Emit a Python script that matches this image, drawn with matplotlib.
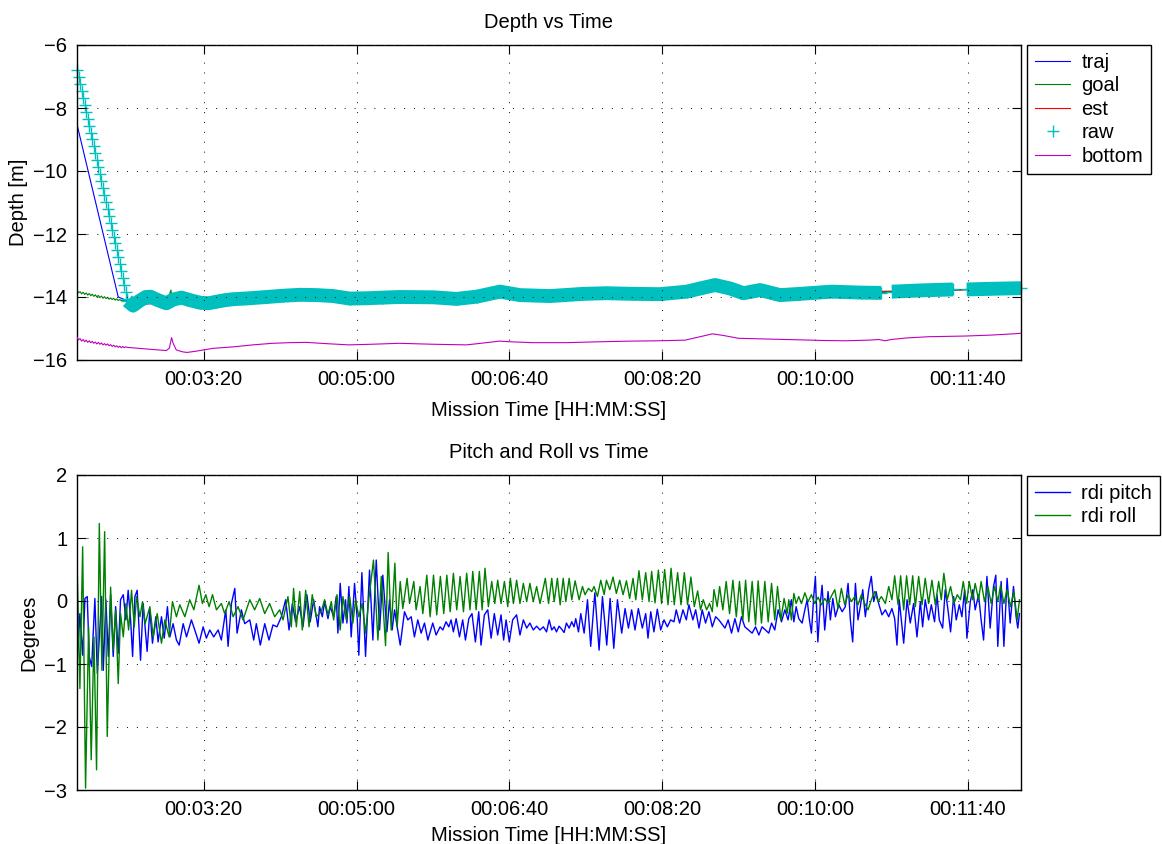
import numpy as np
import matplotlib
matplotlib.use('Agg')
import matplotlib.pyplot as plt
from matplotlib.ticker import FuncFormatter, FixedLocator
from matplotlib.lines import Line2D

plt.rcParams['font.family'] = ['Liberation Sans', 'DejaVu Sans']
plt.rcParams['font.size'] = 14.5

# ---------------- data (seconds, metres / degrees) ----------------
XMIN, XMAX = 117.0, 735.0
xticks = [200, 300, 400, 500, 600, 700]

# raw depth: descent samples
raw_desc_t = [117, 118, 119, 120, 121, 122, 123, 124, 125, 126, 127, 128, 129, 130,
              131, 132, 133, 134, 135, 136, 137, 138, 139, 140, 141, 142, 143, 144,
              145, 146, 147, 148, 149, 150]
raw_desc_v = [-6.80, -7.02, -7.24, -7.46, -7.68, -7.90, -8.12, -8.34, -8.56, -8.78,
              -9.00, -9.22, -9.44, -9.66, -9.88, -10.10, -10.32, -10.54, -10.76, -10.98,
              -11.20, -11.42, -11.64, -11.86, -12.08, -12.30, -12.52, -12.74, -12.96,
              -13.18, -13.40, -13.62, -13.84, -14.06]
# raw depth: level part (band centre), NaN = no samples
raw_lvl_t = [150, 153.7, 158, 162, 165, 170, 175.5, 180, 185.4, 191, 197.4, 203, 208.3,
             214, 219.2, 230, 241.1, 252, 262.9, 274, 284.7, 295.6, 306.6, 317, 328.4,
             350.2, 365.5, 378.6, 393.9, 407, 426.7, 448.5, 463.8, 481.2, 498.7, 516.2,
             524.9, 534.7, 544.6, 553.3, 564.2, 577.3, 590.4, 611, 630, 643.5, 644,
             650.5, 670, 690.5, 691, 699.5, 715, 735]
raw_lvl_v = [-14.12, -14.27, -14.12, -14.00, -13.99, -14.10, -14.20, -14.08, -14.02,
             -14.10, -14.18, -14.20, -14.15, -14.10, -14.07, -14.04, -14.00, -13.96,
             -13.93, -13.94, -13.97, -14.05, -14.04, -14.02, -14.00, -14.01, -14.06,
             -13.99, -13.83, -13.94, -13.97, -13.90, -13.88, -13.90, -13.91, -13.83,
             -13.73, -13.62, -13.73, -13.88, -13.78, -13.94, -13.90, -13.83, -13.86,
             -13.87, np.nan, -13.83, -13.79, -13.76, np.nan, -13.76, -13.74, -13.72]

traj_t = [117, 144, 150, 153.7, 175.5, 203, 241.1, 295.6, 350.2, 393.9, 426.7, 498.7,
          534.7, 553.3, 577.3, 611, 646, 670, 695, 715, 735]
traj_v = [-8.52, -14.00, -14.12, -14.25, -14.18, -14.18, -14.00, -14.04, -14.01,
          -13.85, -13.96, -13.90, -13.64, -13.86, -13.92, -13.84, -13.84, -13.80,
          -13.77, -13.75, -13.73]

goal_t = [117, 118, 119, 120, 121, 122, 123, 124, 125, 126, 127, 128, 129, 130, 131,
          132, 133, 134, 135, 136, 137, 138, 139, 140, 141, 142, 143, 144, 145, 146,
          147, 148, 153.7, 165, 176, 178.5, 179.3, 185.4, 203, 241.1, 295.6, 350.2,
          393.9, 426.7, 498.7, 534.7, 553.3, 577.3, 611, 643.5, 647, 650.5, 670,
          690.5, 695, 699.5, 715, 735]
goal_v = [-13.78, -13.87, -13.83, -13.90, -13.85, -13.92, -13.87, -13.94, -13.89,
          -13.96, -13.91, -13.98, -13.93, -14.00, -13.95, -14.02, -13.97, -14.04,
          -13.99, -14.05, -14.01, -14.07, -14.03, -14.08, -14.04, -14.10, -14.06,
          -14.11, -14.08, -14.12, -14.10, -14.12, -14.24, -14.00, -14.12, -13.78,
          -14.05, -14.03, -14.18, -14.00, -14.04, -14.01, -13.85, -13.96, -13.90,
          -13.64, -13.86, -13.92, -13.84, -13.86, -13.84, -13.83, -13.80, -13.77,
          -13.77, -13.76, -13.75, -13.73]

est_t = [150, 203, 295.6, 393.9, 498.7, 534.7, 611, 670, 735]
est_v = [-14.12, -14.18, -14.04, -13.85, -13.90, -13.64, -13.84, -13.80, -13.73]

bottom_t = [117, 118, 119, 120, 121, 122, 123, 124, 125, 126, 127, 128, 129, 130, 131,
            132, 133, 134, 135, 136, 137, 138, 139, 140, 141, 142, 143, 144, 145, 146,
            147, 148, 149, 150, 155, 160, 165, 170, 175.5, 177.5, 178.9, 180, 182, 186,
            189, 195, 206, 220, 232, 245, 256, 267, 280, 295, 310, 328, 350, 372, 385,
            393.5, 400, 415, 437, 460, 480, 498, 515, 525, 533, 540, 550, 565, 590, 605,
            620, 635, 642, 646, 650, 660, 675, 698, 715, 730, 735]
bottom_v = [-15.28, -15.36, -15.32, -15.40, -15.35, -15.42, -15.37, -15.44, -15.39,
            -15.45, -15.41, -15.47, -15.43, -15.49, -15.44, -15.50, -15.46, -15.52,
            -15.48, -15.53, -15.49, -15.55, -15.51, -15.57, -15.53, -15.58, -15.55,
            -15.60, -15.56, -15.61, -15.57, -15.61, -15.58, -15.60, -15.62, -15.64,
            -15.66, -15.68, -15.70, -15.62, -15.29, -15.48, -15.68, -15.74, -15.76,
            -15.72, -15.63, -15.58, -15.52, -15.47, -15.45, -15.44, -15.48, -15.52,
            -15.50, -15.47, -15.50, -15.52, -15.45, -15.40, -15.42, -15.45, -15.45,
            -15.42, -15.40, -15.39, -15.37, -15.26, -15.17, -15.22, -15.31, -15.33,
            -15.36, -15.38, -15.39, -15.37, -15.35, -15.39, -15.35, -15.30, -15.26,
            -15.24, -15.21, -15.17, -15.15]

# pitch (degrees)
pitch_t = [116.8, 118.9, 120.7, 122.2, 123.7, 125.0, 126.6, 128.7, 130.3, 133.1, 134.2,
           135.9, 137.5, 139.0, 140.7, 142.3, 144.0, 145.5, 147.3, 149.0, 150.5, 152.1,
           153.4, 154.9, 156.4, 158.6, 160.3, 162.9, 164.7, 166.4, 168.6, 170.1, 172.3,
           174.1, 176.2, 177.8, 179.9, 182.1, 183.9, 186.5, 188.7, 191.9, 194.1, 196.9,
           199.6, 201.7, 203.9, 206.5, 209.4, 211.5, 214.4, 215.9, 218.1, 220.3, 221.8,
           224.6, 226.8, 230.1, 232.7, 234.4, 237.0, 239.9, 242.7, 245.3, 247.9, 250.8,
           253.6, 255.8, 258.0, 260.1, 262.8, 264.9, 267.5, 269.7, 271.9, 274.7,
           275.8, 277.6, 279.1, 281.3, 282.8, 285.0, 286.7, 287.8, 289.3, 291.1, 292.8,
           293.7, 295.0, 296.5, 298.7, 300.5, 301.5, 303.5, 305.9, 308.5, 310.7, 312.9,
           315.1, 317.2, 319.9, 321.6, 323.3, 324.9, 326.6, 328.6, 331.4, 333.6, 335.8,
           337.9, 340.1, 342.3, 344.5, 346.7, 349.9, 352.1, 354.7, 356.5, 358.6, 360.4,
           361.9, 363.4, 365.2, 367.4, 369.5, 371.3, 373.5, 375.6, 377.8, 380.0, 381.5,
           383.7, 385.9, 388.1, 390.2, 392.4, 394.6, 396.3, 397.9, 400.0, 402.2, 404.8,
           407.0, 409.2, 411.4, 413.5, 415.7, 417.9, 420.1, 422.3, 424.4,
           426.1, 427.8, 429.4, 430.9, 432.6, 434.4, 435.9, 437.4, 439.2, 440.9, 442.4,
           443.5, 445.3, 446.8, 449.0, 451.2, 453.3, 456.0, 458.8, 461.0, 463.8, 466.0,
           468.4, 470.8, 473.6, 475.8, 478.0, 480.1, 482.3, 484.5, 487.1, 489.3, 490.8,
           492.6, 494.7, 496.9, 499.1, 501.3, 503.5, 505.6, 507.8, 509.3, 511.5, 513.7,
           515.9, 517.6, 520.2, 522.0, 524.2, 526.3, 528.5, 530.7, 532.9, 535.1, 537.2,
           541.2, 543.3, 545.5, 547.7, 549.9, 552.0, 554.2, 559.0, 561.2, 563.4, 565.5,
           567.7, 569.9, 571.7, 573.8, 576.0, 578.2, 580.4, 582.5,
           584.7, 586.3, 587.8, 589.5, 591.7, 593.5, 595.0, 596.5, 597.8, 599.3, 600.4,
           602.0, 603.7, 604.8, 606.5, 608.7, 610.2, 611.8, 613.5, 615.7, 617.9, 620.0,
           621.8, 623.3, 624.8, 626.6, 628.3, 629.8, 631.4, 633.1, 635.3, 637.0, 638.6,
           640.1, 641.8, 644.0, 646.2, 648.4, 650.5, 652.3, 653.8, 655.3, 658.2, 660.4,
           662.5, 664.7, 666.9, 669.1, 670.6, 672.3, 674.5, 676.3, 678.4, 680.0, 681.5,
           683.7, 685.4, 687.2, 688.9, 690.9, 692.6, 694.6, 696.3, 698.1, 699.6, 701.8,
           703.5, 705.0, 707.2, 708.9, 710.5, 712.7, 714.8, 717.0, 718.5, 719.8, 722.0,
           723.8, 725.9, 727.9, 730.1, 731.8, 732.9, 734.0]
pitch_v = [-1.10, -0.20, -0.86, 0.04, 0.07, -0.88, -1.04, 0.04, -1.15, 0.07, -1.10,
           0.02, -0.88, 0.10, -0.88, -0.09, -0.83, 0.02, 0.10, -0.30, 0.17, -0.30,
           -0.88, 0.07, 0.17, -0.94, -0.04, -0.80, -0.14, -0.67, -0.25, -0.65, -0.25,
           -0.59, -0.09, -0.57, -0.36, -0.62, -0.70, -0.36, -0.57, -0.30, -0.46, -0.67,
           -0.41, -0.59, -0.46, -0.57, -0.46, -0.62, -0.14, -0.72, -0.04, 0.20, -0.51,
           -0.14, -0.36, -0.30, -0.62, -0.36, -0.70, -0.36, -0.62, -0.38, -0.41, -0.25,
           0.02, -0.46, -0.04, -0.33, -0.09, -0.41, 0.10, -0.33, 0.02, -0.41,
           -0.09, -0.25, -0.01, -0.28, -0.09, -0.25, 0.07, -0.51, 0.28, -0.35, 0.02,
           -0.35, 0.23, -0.57, 0.28, -0.30, -0.86, 0.45, -0.88, 0.49, -0.62, 0.65,
           -0.46, 0.41, -0.49, 0.02, -0.46, -0.14, -0.41, -0.70, -0.17, -0.30, -0.25,
           -0.57, -0.30, -0.51, -0.35, -0.62, -0.35, -0.54, -0.41, -0.46, -0.33, -0.41,
           -0.30, -0.49, -0.28, -0.57, -0.30, -0.62, -0.28, -0.20, -0.65, -0.17, -0.70,
           -0.22, -0.14, -0.59, -0.20, -0.54, -0.22, -0.62, -0.30, -0.65, -0.30, -0.22,
           -0.54, -0.30, -0.43, -0.35, -0.46, -0.40, -0.46, -0.41, -0.49,
           -0.30, -0.46, -0.41, -0.49, -0.40, -0.45, -0.50, -0.35, -0.43, -0.33, -0.41,
           -0.28, -0.49, -0.20, -0.51, 0.02, -0.72, 0.13, -0.78, 0.07, -0.70, 0.04,
           -0.75, 0.02, -0.51, -0.12, -0.43, -0.14, -0.46, -0.12, -0.43, -0.20, -0.59,
           -0.17, -0.49, -0.13, -0.46, -0.30, -0.41, -0.30, -0.33, -0.14, -0.35, -0.14,
           -0.30, -0.06, -0.30, -0.14, -0.43, -0.14, -0.35, -0.17, -0.41, -0.25, -0.30,
           -0.43, -0.30, -0.51, -0.28, -0.49, -0.25, -0.41, -0.51, -0.41, -0.54, -0.41,
           -0.46, -0.51, -0.35, -0.46, -0.14, -0.33, -0.14, -0.30,
           0.02, -0.33, -0.09, -0.28, -0.35, -0.14, 0.02, -0.30, -0.51, 0.07, 0.39,
           -0.65, -0.01, 0.25, -0.46, 0.15, -0.30, 0.04, -0.25, -0.06, -0.17, -0.09,
           0.28, -0.30, -0.65, 0.28, -0.30, -0.09, 0.18, -0.25, 0.18, 0.39, -0.01,
           0.15, -0.04, -0.22, -0.14, -0.25, -0.12, -0.28, -0.70, 0.02, -0.67, 0.02,
           -0.35, -0.04, -0.57, -0.01, -0.41, 0.02, -0.30, -0.06, -0.33, 0.10, -0.30,
           -0.43, 0.18, -0.14, -0.49, 0.07, -0.30, -0.06, -0.25, 0.18, -0.59, -0.01,
           0.18, -0.14, 0.10, -0.30, -0.62, 0.39, -0.43, 0.23, 0.41, -0.72, 0.31,
           -0.72, 0.36, -0.35, 0.23, -0.25, -0.43, -0.20]

# roll (degrees)
roll_t = [116.8, 118.9, 120.7, 122.6, 124.6, 126.3, 128.1, 129.8, 131.6, 133.3, 135.1,
          136.8, 139.0, 140.7, 142.3, 144.0, 145.5, 147.3, 149.0, 150.8, 152.7, 154.5,
          156.0, 158.2, 159.9, 161.6, 164.7, 166.9, 169.5, 172.3, 174.5, 177.3, 179.5,
          182.1, 184.3, 187.6, 190.8, 193.5, 196.9, 199.1, 201.3, 203.5, 205.7, 208.3,
          211.5, 213.7, 216.6, 219.2, 222.4, 225.7, 230.1, 233.3, 236.6, 239.9, 243.1,
          246.4, 249.7, 251.9, 255.1, 257.3, 258.8, 260.6, 262.8, 264.5, 266.7, 268.9,
          271.0, 273.6,
          276.9, 279.1, 281.3, 283.5, 285.0, 287.2, 289.3, 291.1, 293.3, 295.5, 297.6,
          299.4, 301.5, 303.7, 305.9, 308.1, 311.1, 314.0, 316.2, 319.0, 320.7, 322.7,
          325.1, 326.6, 328.6, 330.3, 333.1, 334.7, 337.5, 339.0, 341.6, 343.4, 346.0,
          348.2, 350.4, 352.5, 354.9, 357.1, 359.1, 361.3, 363.4, 365.6, 367.8, 370.0,
          372.1, 374.3, 376.1, 378.3, 380.4, 382.2, 384.1, 386.3, 388.5, 390.5, 392.4,
          394.6, 396.8, 399.0, 400.7, 402.7, 404.8, 407.0, 409.2, 411.4, 413.5, 415.7,
          417.9, 420.1, 423.6, 425.7,
          427.8, 429.4, 431.5, 433.3, 435.3, 437.0, 439.2, 440.9, 443.1, 445.7, 447.9,
          449.6, 451.8, 454.0, 455.5, 457.7, 459.9, 462.1, 463.6, 465.8, 467.9, 470.1,
          472.3, 474.5, 476.7, 478.8, 481.0, 482.8, 484.9, 487.1, 489.3, 491.5, 493.2,
          495.4, 497.6, 499.7, 501.7, 503.9, 505.9, 508.0, 510.2, 512.4, 514.6, 516.7,
          518.9, 521.1, 523.3, 525.2, 527.0, 529.2, 531.1, 532.9, 534.0, 536.1, 537.7,
          539.8, 542.0, 544.2, 546.4, 548.6, 550.7, 552.9, 554.7, 556.8, 559.0, 561.2,
          562.9, 565.1, 567.3, 569.5, 571.7, 573.8, 575.6, 577.8, 579.9, 581.9,
          583.0, 584.7, 586.3, 587.8, 589.5, 591.3, 593.5, 595.6, 597.8, 600.0, 602.2,
          604.4, 606.5, 608.7, 610.9, 613.1, 615.2, 617.4, 619.6, 621.8, 624.0, 626.1,
          628.3, 630.5, 632.7, 634.9, 637.0, 639.2, 641.4, 643.6, 646.2, 648.4, 650.5,
          652.3, 654.5, 656.2, 658.2, 660.1, 662.1, 664.1, 665.8, 668.0, 670.2, 672.3,
          674.5, 676.7, 678.9, 681.1, 682.8, 684.5, 686.7, 688.9, 691.1, 693.3, 695.4,
          697.2, 699.4, 701.1, 703.3, 705.0, 707.2, 708.9, 711.1, 713.3, 715.5, 717.7,
          719.8, 721.6, 723.8, 725.9, 728.1, 730.3, 732.5, 734.0]
roll_v = [0.86, -1.39, 0.86, -2.97, -0.41, -2.52, -0.57, -2.68, 1.23, -1.10, 1.10,
          -2.15, 0.22, -0.78, -0.14, -1.31, -0.20, -0.57, -0.04, -0.46, 0.17, -0.41,
          0.07, -0.25, -0.01, -0.36, -0.09, -0.57, -0.20, -0.67, -0.30, -0.57, -0.01,
          -0.25, -0.06, -0.25, 0.02, -0.14, 0.25, -0.04, 0.10, -0.09, 0.10, -0.14,
          -0.04, -0.20, -0.01, -0.25, -0.09, -0.30, 0.02, -0.14, 0.04, -0.20, -0.04,
          -0.25, -0.14, -0.30, 0.07, -0.41, 0.20, -0.41, 0.15, -0.46, 0.17, -0.41,
          0.10, -0.25,
          -0.17, 0.02, -0.22, -0.01, -0.30, 0.10, -0.46, 0.07, -0.30, 0.07, -0.35,
          0.02, -0.25, -0.04, -0.51, 0.04, 0.65, -0.62, 0.39, -0.71, 0.77, -0.46,
          0.60, -0.41, 0.31, -0.12, 0.36, -0.04, 0.31, -0.14, 0.23, -0.20, 0.41,
          -0.25, 0.41, -0.22, 0.39, -0.20, 0.41, -0.17, 0.44, -0.14, 0.39, -0.17,
          0.44, -0.14, 0.47, -0.14, 0.47, -0.14, 0.52, -0.09, 0.31, -0.04, 0.33,
          -0.04, 0.31, -0.09, 0.36, -0.04, 0.33, -0.04, 0.28, -0.01, 0.28, -0.01,
          0.23, -0.04, 0.36, -0.04,
          0.36, -0.01, 0.36, -0.06, 0.36, -0.01, 0.36, 0.02, 0.32, 0.02, 0.23,
          0.10, 0.20, 0.15, 0.23, 0.07, 0.33, 0.10, 0.33, 0.18, 0.38, 0.12,
          0.33, 0.10, 0.32, 0.04, 0.36, 0.02, 0.48, 0.02, 0.45, -0.01, 0.47,
          -0.03, 0.49, -0.04, 0.50, -0.06, 0.52, -0.06, 0.45, -0.06, 0.45, -0.06,
          0.38, -0.09, 0.16, -0.14, 0.02, -0.14, -0.04, -0.17, 0.18, -0.09, 0.23,
          -0.14, 0.31, -0.20, 0.33, -0.25, 0.31, -0.30, 0.33, -0.33, 0.31, -0.38,
          0.32, -0.35, 0.31, -0.33, 0.28, -0.30, 0.23, -0.30, 0.04, -0.20,
          0.02, -0.30, 0.12, -0.04, 0.07, -0.04, 0.13, -0.01, 0.10, -0.04, 0.06,
          -0.06, 0.04, -0.04, 0.08, 0.18, -0.12, 0.20, -0.06, 0.10, -0.01, 0.07,
          -0.06, 0.10, -0.04, -0.14, 0.02, 0.15, -0.01, 0.07, -0.04, 0.23, 0.02,
          0.40, -0.06, 0.40, -0.14, 0.40, -0.06, 0.40, -0.09, 0.39, -0.06, 0.36,
          -0.04, 0.33, -0.06, 0.31, 0.02, 0.44, 0.02, 0.23, -0.04, 0.10, 0.02,
          0.31, -0.04, 0.31, 0.02, 0.28, 0.02, 0.31, -0.01, 0.23, -0.04, 0.23,
          -0.01, 0.25, -0.04, 0.18, -0.09, 0.15, -0.30, 0.02]

# ---------------- figure ----------------
W, H = 1162, 844
fig = plt.figure(figsize=(W / 100, H / 100), dpi=100)
ax1 = fig.add_axes([77 / W, 1 - 360 / H, 944 / W, 315 / H])
ax2 = fig.add_axes([77 / W, 1 - 790 / H, 944 / W, 315 / H])

C_B = (0, 0, 1)
C_G = (0, 0.5, 0)
C_R = (1, 0, 0)
C_C = (0, 0.75, 0.75)
C_M = (0.75, 0, 0.75)


def hms(x, pos=None):
    s = int(round(x))
    return f"{s // 3600:02d}:{(s % 3600) // 60:02d}:{s % 60:02d}"


def style(ax):
    ax.set_xlim(XMIN, XMAX)
    ax.xaxis.set_major_locator(FixedLocator(xticks))
    ax.xaxis.set_major_formatter(FuncFormatter(hms))
    ax.tick_params(direction='in', top=True, right=True, length=6.8, width=0.8,
                   labelsize=14.5, pad=7, color='k')
    ax.grid(True, color='#222222', linestyle=(0, (1, 8.5)), linewidth=0.75)
    ax.set_axisbelow(False)
    for s in ax.spines.values():
        s.set_linewidth(1.0)
        s.set_color('k')


LEG_KW = dict(loc='upper left', bbox_transform=fig.transFigure, borderaxespad=0,
              fancybox=False, edgecolor='k', framealpha=1, handlelength=1.75,
              handletextpad=0.55, labelspacing=0.22, borderpad=0.4, fontsize=14.5)

# top panel
ax1.plot(traj_t, traj_v, color=C_B, lw=0.8, zorder=2.0)
ax1.plot(est_t, est_v, color=C_R, lw=0.8, zorder=2.05)
ax1.plot(goal_t, goal_v, color=C_G, lw=0.8, zorder=2.1)
ax1.plot(raw_lvl_t, raw_lvl_v, color=C_C, lw=10.0, solid_capstyle='butt',
         zorder=2.5, clip_on=False)
ax1.plot(raw_lvl_t, raw_lvl_v, '+', color=C_C, ms=8, mew=1.0, zorder=2.5,
         clip_on=False)
ax1.plot(raw_desc_t, raw_desc_v, '+', color=C_C, ms=8, mew=1.0, zorder=2.5,
         clip_on=False)
ax1.plot(bottom_t, bottom_v, color=C_M, lw=0.8, zorder=2.6)

style(ax1)
ax1.set_ylim(-16, -6)
ax1.set_yticks([-16, -14, -12, -10, -8, -6])
ax1.set_title('Depth vs Time', fontsize=14.5, pad=12)
ax1.set_xlabel('Mission Time [HH:MM:SS]', fontsize=14.5, labelpad=8.5)
ax1.set_ylabel('Depth [m]', fontsize=14.5, labelpad=4)

h1 = [Line2D([], [], color=C_B, lw=0.8), Line2D([], [], color=C_G, lw=0.8),
      Line2D([], [], color=C_R, lw=0.8),
      Line2D([], [], color=C_C, marker='+', ls='none', ms=8, mew=1.0),
      Line2D([], [], color=C_M, lw=0.8)]
leg1 = ax1.legend(h1, ['traj', 'goal', 'est', 'raw', 'bottom'],
                  bbox_to_anchor=(1027 / W, 1 - 45 / H), **LEG_KW)
leg1.get_frame().set_linewidth(1.0)

# bottom panel
ax2.plot(pitch_t, pitch_v, color=C_B, lw=1.0, label='rdi pitch')
ax2.plot(roll_t, roll_v, color=C_G, lw=1.0, label='rdi roll')
style(ax2)
ax2.set_ylim(-3, 2)
ax2.set_yticks([-3, -2, -1, 0, 1, 2])
ax2.set_title('Pitch and Roll vs Time', fontsize=14.5, pad=12)
ax2.set_xlabel('Mission Time [HH:MM:SS]', fontsize=14.5, labelpad=5)
ax2.set_ylabel('Degrees', fontsize=14.5, labelpad=4)
leg2 = ax2.legend(bbox_to_anchor=(1027 / W, 1 - 476 / H), **LEG_KW)
leg2.get_frame().set_linewidth(1.0)

fig.savefig('out.png', dpi=100)
